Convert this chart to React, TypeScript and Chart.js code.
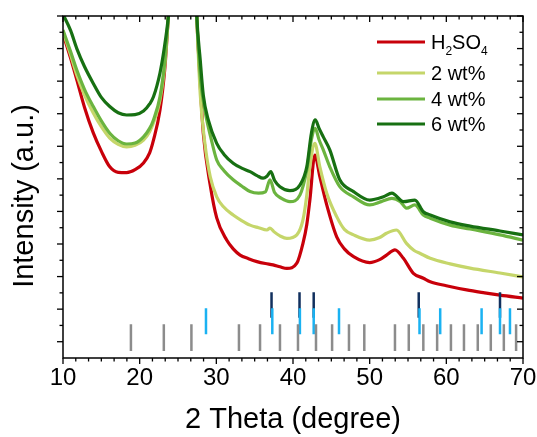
import React, { useEffect, useRef } from "react";
import { Chart, registerables } from "chart.js";
Chart.register(...registerables);

// ---------- data ----------
const SERIES_NAMES = ["H\u2082SO\u2084", "2 wt%", "4 wt%", "6 wt%"];
const SERIES_COLORS = ["#C8000A", "#C5D66A", "#6BB43F", "#177012"];

const H2SO4_X = [10, 11, 11.8, 12.8, 13.95, 15, 16.1, 17.2, 18.3, 19.4, 20.5, 21.3, 21.8, 22.65, 23.3, 23.75, 24.6, 25.6, 26.4, 27.1, 27.45, 27.9, 28.3, 29.2, 30.05, 31.35, 32.2, 33.1, 34.2, 35.3, 36.4, 37.4, 38.3, 39.2, 40.5, 41.3, 41.8, 42.2, 42.85, 43.5, 44.4, 45.7, 46.7, 47.9, 50.0, 51.3, 52.2, 53.3, 54.4, 55.7, 57.0, 57.9, 60.0, 62.65, 65.0, 67.0, 70.0];
const H2SO4_Y = [9.45, 8.7, 8.04, 7.2, 6.41, 5.85, 5.37, 5.2, 5.19, 5.28, 5.49, 5.8, 6.19, 7.11, 8.44, 10.0, 12.5, 15, 15, 12.5, 10.0, 7.9, 6.4, 4.81, 3.8, 3.12, 2.85, 2.66, 2.55, 2.46, 2.4, 2.36, 2.3, 2.25, 2.41, 3.02, 3.6, 4.35, 5.73, 5.07, 4.2, 3.22, 2.85, 2.61, 2.43, 2.52, 2.66, 2.82, 2.56, 2.1, 1.95, 1.84, 1.72, 1.59, 1.5, 1.43, 1.34];

const WT2_X = [10, 11, 11.8, 12.8, 13.95, 15, 16.1, 17.2, 18.3, 19.4, 20.5, 21.3, 21.8, 22.65, 23.3, 23.75, 24.6, 25.6, 26.4, 27.1, 27.45, 27.9, 28.5, 29.2, 30.05, 30.9, 32.2, 33.3, 34.4, 35.5, 36.6, 37.0, 37.5, 38.3, 39.2, 40.5, 41.3, 41.8, 42.2, 42.85, 43.5, 44.4, 45.7, 46.7, 47.9, 50.0, 51.3, 52.2, 53.5, 54.8, 55.8, 56.6, 57.9, 60.5, 63.1, 67.0, 70.0];
const WT2_Y = [9.51, 8.8, 8.19, 7.58, 7.02, 6.6, 6.25, 6.06, 5.98, 6.03, 6.19, 6.45, 6.72, 7.42, 8.56, 10.0, 12.5, 15, 15, 12.5, 10.0, 7.6, 6.1, 5.07, 4.45, 4.15, 3.89, 3.72, 3.58, 3.5, 3.43, 3.49, 3.38, 3.25, 3.17, 3.28, 3.74, 4.5, 5.37, 6.09, 5.37, 4.56, 3.84, 3.45, 3.28, 3.12, 3.2, 3.33, 3.43, 3.02, 2.8, 2.71, 2.56, 2.39, 2.26, 2.11, 1.99];

const WT4_X = [10, 11, 11.8, 12.8, 13.95, 15, 16.1, 17.2, 18.3, 19.4, 20.5, 21.3, 21.8, 22.65, 23.3, 23.75, 24.6, 25.6, 26.4, 27.1, 27.45, 27.9, 28.3, 28.75, 29.3, 30.05, 31.0, 32.2, 33.3, 34.4, 35.5, 36.4, 37.0, 37.6, 38.5, 39.6, 40.9, 41.8, 42.4, 42.9, 43.4, 43.95, 44.8, 46.1, 47.9, 50.0, 51.5, 52.9, 54.0, 54.8, 55.9, 57.0, 57.9, 60.5, 63.1, 67.0, 70.0];
const WT4_Y = [9.57, 8.9, 8.34, 7.75, 7.22, 6.78, 6.4, 6.17, 6.07, 6.1, 6.29, 6.55, 6.81, 7.52, 8.65, 10.0, 12.5, 15, 15, 12.5, 10.0, 8.14, 7.4, 6.81, 6.25, 5.58, 5.25, 4.97, 4.78, 4.61, 4.56, 4.6, 4.97, 4.58, 4.4, 4.3, 4.5, 5.27, 6.2, 6.55, 6.2, 5.89, 5.37, 4.76, 4.45, 4.2, 4.3, 4.4, 4.3, 4.1, 4.2, 3.89, 3.79, 3.58, 3.46, 3.28, 3.12];

const WT6_X = [10, 11, 11.8, 12.8, 13.95, 15, 16.1, 17.2, 18.3, 19.4, 20.5, 21.3, 21.8, 22.65, 23.2, 23.75, 24.6, 25.6, 26.4, 27.1, 27.45, 27.9, 28.3, 28.95, 30.05, 31.0, 32.2, 33.3, 34.4, 35.3, 36.1, 36.6, 37.1, 37.6, 38.3, 39.6, 40.9, 41.8, 42.4, 42.9, 43.4, 43.95, 44.8, 46.1, 47.9, 50.0, 51.8, 52.9, 54.4, 55.9, 57.0, 57.9, 60.5, 63.1, 67.0, 70.0];
const WT6_Y = [10.05, 9.55, 9.0, 8.45, 7.93, 7.5, 7.22, 7.03, 6.96, 6.97, 7.08, 7.3, 7.52, 8.25, 9.0, 10.0, 12.5, 15, 15, 12.5, 10.0, 8.65, 7.57, 6.81, 6.09, 5.75, 5.48, 5.33, 5.22, 5.1, 5.02, 5.08, 5.22, 4.95, 4.76, 4.64, 4.81, 5.37, 6.4, 6.81, 6.55, 6.29, 5.89, 4.97, 4.61, 4.35, 4.45, 4.56, 4.3, 4.35, 3.99, 3.89, 3.68, 3.55, 3.4, 3.28];

// reference pattern sticks (2θ positions)
const GRAY_POS = [18.86, 23.15, 26.75, 32.95, 35.7, 38.3, 40.65, 43.0, 45.1, 47.3, 49.3, 53.3, 55.1, 57.0, 58.8, 60.6, 62.3, 64.1, 65.8, 67.5, 69.1];
const BLUE_POS = [28.65, 37.3, 40.9, 42.7, 46.0, 56.5, 59.2, 64.6, 67.0, 68.3];
const NAVY_POS = [37.2, 40.85, 42.7, 56.4, 67.0];
const GRAY_SPAN = [-0.285, 0.535];
const BLUE_SPAN = [0.228, 1.026];
const NAVY_SPAN = [0.737, 1.517];
const STICK_COLORS = ["#8C8C8C", "#1AB2F2", "#11305E"];

const X_MAJOR = [10, 20, 30, 40, 50, 60, 70];
const X_MINOR_DIV = 6;
const Y_MIN = -0.5;
const Y_MAX = 10;
const Y_MAJOR = [0, 1, 2, 3, 4, 5, 6, 7, 8, 9, 10];
const Y_MINOR_DIV = 2;
const Y_TITLE = "Intensity (a.u.)";
const X_TITLE = "2 Theta (degree)";

const FONT = 'Arial, "Liberation Sans", sans-serif';

function pts(xs: number[], ys: number[]) {
  return xs.map((x, i) => ({ x, y: ys[i] }));
}
function sticks(pos: number[], span: number[]) {
  const d: any[] = [];
  for (const p of pos) {
    d.push({ x: p, y: span[0] }, { x: p, y: span[1] }, { x: p, y: null });
  }
  return d;
}

const SUBS: Record<string, string> = { "\u2080": "0", "\u2081": "1", "\u2082": "2", "\u2083": "3", "\u2084": "4", "\u2085": "5", "\u2086": "6", "\u2087": "7", "\u2088": "8", "\u2089": "9" };

const framePlugin = {
  id: "frameTicks",
  afterDraw(chart: any) {
    const { ctx, chartArea: a } = chart;
    const xs = chart.scales.x;
    const ys = chart.scales.y;
    ctx.save();
    ctx.strokeStyle = "#000";
    ctx.lineWidth = 1.5;
    ctx.strokeRect(a.left, a.top, a.right - a.left, a.bottom - a.top);
    ctx.lineWidth = 1.3;
    const seg = (x1: number, y1: number, x2: number, y2: number) => {
      ctx.beginPath();
      ctx.moveTo(x1, y1);
      ctx.lineTo(x2, y2);
      ctx.stroke();
    };
    const MAJ = 6, MIN = 3.5;
    for (let i = 0; i < X_MAJOR.length; i++) {
      const px = xs.getPixelForValue(X_MAJOR[i]);
      seg(px, a.bottom, px, a.bottom + MAJ);
      seg(px, a.top, px, a.top + MAJ);
      if (i < X_MAJOR.length - 1) {
        const step = (X_MAJOR[i + 1] - X_MAJOR[i]) / X_MINOR_DIV;
        for (let k = 1; k < X_MINOR_DIV; k++) {
          const mx = xs.getPixelForValue(X_MAJOR[i] + k * step);
          seg(mx, a.bottom, mx, a.bottom + MIN);
          seg(mx, a.top, mx, a.top + MIN);
        }
      }
    }
    for (let i = 0; i < Y_MAJOR.length; i++) {
      const py = ys.getPixelForValue(Y_MAJOR[i]);
      seg(a.left - MAJ, py, a.left, py);
      seg(a.right, py, a.right - MAJ, py);
      const step = 1 / Y_MINOR_DIV;
      for (let k = 1; k < Y_MINOR_DIV; k++) {
        const v = Y_MAJOR[i] - k * step;
        if (v <= Y_MIN) continue;
        const my = ys.getPixelForValue(v);
        seg(a.left - MIN, my, a.left, my);
        seg(a.right, my, a.right - MIN, my);
      }
    }
    // y-axis title
    ctx.fillStyle = "#000";
    ctx.font = `29px ${FONT}`;
    ctx.textAlign = "center";
    ctx.textBaseline = "middle";
    ctx.translate(25, (a.top + a.bottom) / 2 + 9);
    ctx.rotate(-Math.PI / 2);
    ctx.fillText(Y_TITLE, 0, 0);
    ctx.restore();
  },
};

const legendPlugin = {
  id: "customLegend",
  afterDraw(chart: any) {
    const { ctx } = chart;
    const rows = [42, 73, 99, 124];
    const x0 = 377, x1 = 425, tx = 431;
    ctx.save();
    for (let i = 0; i < SERIES_NAMES.length; i++) {
      const cy = rows[i];
      ctx.strokeStyle = SERIES_COLORS[i];
      ctx.lineWidth = 3;
      ctx.beginPath();
      ctx.moveTo(x0, cy);
      ctx.lineTo(x1, cy);
      ctx.stroke();
      ctx.fillStyle = "#000";
      ctx.textBaseline = "alphabetic";
      ctx.textAlign = "left";
      let x = tx;
      const base = cy + 7.2;
      for (const ch of SERIES_NAMES[i]) {
        if (SUBS[ch]) {
          ctx.font = `12px ${FONT}`;
          ctx.fillText(SUBS[ch], x, base + 6);
          x += ctx.measureText(SUBS[ch]).width;
        } else {
          ctx.font = `20px ${FONT}`;
          ctx.fillText(ch, x, base);
          x += ctx.measureText(ch).width;
        }
      }
    }
    ctx.restore();
  },
};

export default function App() {
  const ref = useRef<HTMLCanvasElement | null>(null);
  useEffect(() => {
    if (!ref.current) return;
    const curveData = [pts(H2SO4_X, H2SO4_Y), pts(WT2_X, WT2_Y), pts(WT4_X, WT4_Y), pts(WT6_X, WT6_Y)];
    const curveOrder = [3, 2, 1, 0];
    const curves = curveData.map((d, i) => ({
      type: "line" as const,
      label: SERIES_NAMES[i],
      data: d,
      borderColor: SERIES_COLORS[i],
      backgroundColor: SERIES_COLORS[i],
      borderWidth: 3.2,
      pointRadius: 0,
      cubicInterpolationMode: "monotone" as const,
      fill: false,
      clip: 0,
      order: curveOrder[i] + 3,
    }));
    const stickSets = [
      { d: sticks(NAVY_POS, NAVY_SPAN), c: STICK_COLORS[2], o: 2 },
      { d: sticks(BLUE_POS, BLUE_SPAN), c: STICK_COLORS[1], o: 1 },
      { d: sticks(GRAY_POS, GRAY_SPAN), c: STICK_COLORS[0], o: 0 },
    ].map((s) => ({
      type: "line" as const,
      label: "",
      data: s.d,
      borderColor: s.c,
      backgroundColor: s.c,
      borderWidth: 2.5,
      borderCapStyle: "butt" as const,
      pointRadius: 0,
      spanGaps: false,
      fill: false,
      order: s.o,
    }));
    const chart = new Chart(ref.current, {
      type: "line",
      data: { datasets: [...curves, ...stickSets] as any },
      options: {
        animation: false,
        responsive: false,
        devicePixelRatio: 1,
        layout: { padding: { top: 16, right: 14, left: 0, bottom: 0 } },
        plugins: { legend: { display: false }, tooltip: { enabled: false } },
        scales: {
          x: {
            type: "linear",
            min: 10,
            max: 70,
            grid: { display: false, drawTicks: false },
            border: { display: false },
            ticks: { stepSize: 10, color: "#000", font: { family: FONT, size: 24 }, padding: 6, maxRotation: 0 },
            title: { display: true, text: X_TITLE, color: "#000", font: { family: FONT, size: 29 }, padding: { top: 0, bottom: 0 } },
            afterFit: (s: any) => { s.height = 79; s.paddingLeft = 0; s.paddingRight = 0; },
          },
          y: {
            type: "linear",
            min: Y_MIN,
            max: Y_MAX,
            grid: { display: false, drawTicks: false },
            border: { display: false },
            ticks: { display: false },
            title: { display: false },
            afterFit: (s: any) => { s.width = 63; s.paddingTop = 0; s.paddingBottom = 0; },
          },
        },
      },
      plugins: [framePlugin, legendPlugin],
    });
    return () => chart.destroy();
  }, []);
  return (
    <div style={{ position: "fixed", left: 0, top: 0, width: 537, height: 437, background: "#fff" }}>
      <canvas ref={ref} width={537} height={437} style={{ display: "block" }} />
    </div>
  );
}
